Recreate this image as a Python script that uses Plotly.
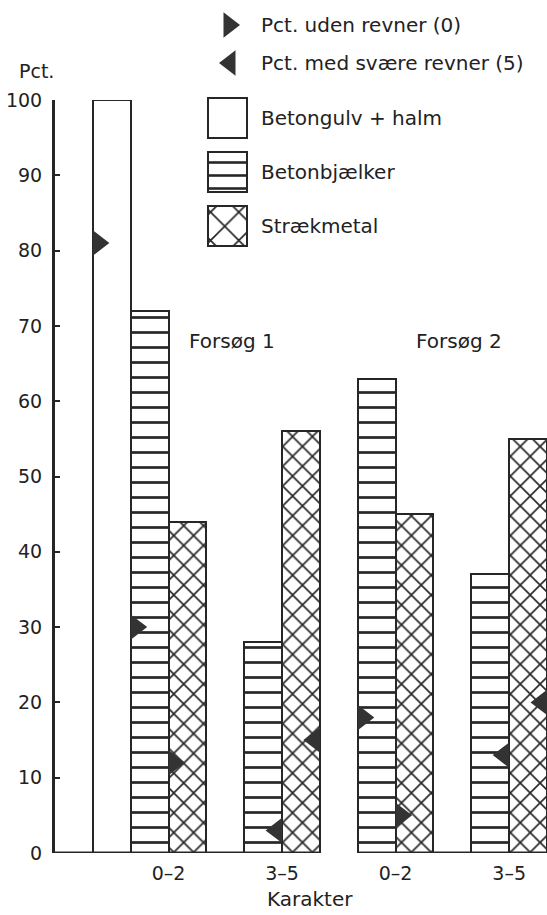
import plotly.graph_objects as go

# ---------------- data ----------------
groups = ["Forsøg 1", "Forsøg 2"]
karakter = ["0–2", "3–5"]
y_ticks = [0, 10, 20, 30, 40, 50, 60, 70, 80, 90, 100]

halm_pct = 100            # Betongulv + halm (Forsøg 1)
halm_uden_revner = 81     # Pct. uden revner on Betongulv + halm

# [Forsøg 1, Forsøg 2] for each karakter
bjaelker_0_2 = [72, 63]
bjaelker_3_5 = [28, 37]
straek_0_2 = [44, 45]
straek_3_5 = [56, 55]

# Pct. uden revner (0) – shown on the 0–2 bars
uden_revner_bjaelker = [30, 18]
uden_revner_straek = [12, 5]
# Pct. med svære revner (5) – shown on the 3–5 bars
svaere_revner_bjaelker = [3, 13]
svaere_revner_straek = [15, 20]

legend_markers = ["Pct. uden revner (0)", "Pct. med svære revner (5)"]
legend_bars = ["Betongulv + halm", "Betonbjælker", "Strækmetal"]

# ---------------- layout constants ----------------
W, H = 547, 915
ML, MR, MT, MB = 55, 0, 0, 62
PW, PH = W - ML - MR, H - MT - MB
X_MIN, X_MAX = -1.5, 11.5
UNIT_PX = PW / (X_MAX - X_MIN)
TOP_PX = 100
INK = "#262626"
FONT = "DejaVu Sans"
TRI = 22
off = (TRI / 4) / UNIT_PX   # shift so triangle base sits on bar edge


def px_to_paper(px, py):
    return (px - ML) / PW, (PH + MT - py) / PH


# slot positions: halm at 0, then pairs separated by one empty slot
halm_x = 0
pair_pos = {}
p = 1
for g in range(len(groups)):
    for k in range(len(karakter)):
        pair_pos[(g, k)] = p
        p += 3

bj_x, bj_y, st_x, st_y = [], [], [], []
for g in range(len(groups)):
    bj_x += [pair_pos[(g, 0)], pair_pos[(g, 1)]]
    bj_y += [bjaelker_0_2[g], bjaelker_3_5[g]]
    st_x += [pair_pos[(g, 0)] + 1, pair_pos[(g, 1)] + 1]
    st_y += [straek_0_2[g], straek_3_5[g]]

# markers
right_x = [halm_x - 0.5 + off]
right_y = [halm_uden_revner]
left_x, left_y = [], []
for g in range(len(groups)):
    b0 = pair_pos[(g, 0)]
    right_x += [b0 - 0.5 + off, b0 + 0.5 + off]
    right_y += [uden_revner_bjaelker[g], uden_revner_straek[g]]
    b1 = pair_pos[(g, 1)]
    left_x += [b1 + 0.5 - off, b1 + 1.5 - off]
    left_y += [svaere_revner_bjaelker[g], svaere_revner_straek[g]]

line = dict(color=INK, width=2)
hpat = dict(shape="-", size=15, solidity=0.18, fgcolor=INK, bgcolor="white", fillmode="replace")
xpat = dict(shape="x", size=14, solidity=0.22, fgcolor=INK, bgcolor="white", fillmode="replace")

fig = go.Figure()
fig.add_trace(go.Bar(x=[halm_x], y=[halm_pct], width=1, marker=dict(color="white", line=line),
                     cliponaxis=False, showlegend=False))
fig.add_trace(go.Bar(x=bj_x, y=bj_y, width=1, marker=dict(color="white", line=line, pattern=hpat),
                     cliponaxis=False, showlegend=False))
fig.add_trace(go.Bar(x=st_x, y=st_y, width=1, marker=dict(color="white", line=line, pattern=xpat),
                     cliponaxis=False, showlegend=False))
fig.add_trace(go.Scatter(x=right_x, y=right_y, mode="markers", cliponaxis=False, showlegend=False,
                         marker=dict(symbol="triangle-right", size=TRI, color="#333", line=dict(width=0))))
fig.add_trace(go.Scatter(x=left_x, y=left_y, mode="markers", cliponaxis=False, showlegend=False,
                         marker=dict(symbol="triangle-left", size=TRI, color="#333", line=dict(width=0))))

# ---------------- hand-drawn legend (pixel-like inset axes) ----------------
sw_x = 227
sw_w = 39
sw_tops = [98, 152, 206]
sw_h = 40
patterns = [None,
            dict(shape="-", size=13, solidity=0.2, fgcolor=INK, bgcolor="white", fillmode="replace"),
            dict(shape="x", size=20, solidity=0.16, fgcolor=INK, bgcolor="white", fillmode="replace")]
for top, pat in zip(sw_tops, patterns):
    mk = dict(color="white", line=line)
    if pat:
        mk["pattern"] = pat
    fig.add_trace(go.Bar(x=[sw_x], y=[sw_h], base=[top], width=[sw_w], marker=mk,
                         xaxis="x2", yaxis="y2", showlegend=False, cliponaxis=False))
mk_rows = [25, 63]
fig.add_trace(go.Scatter(x=[229], y=[mk_rows[0]], mode="markers", xaxis="x2", yaxis="y2", showlegend=False,
                         cliponaxis=False,
                         marker=dict(symbol="triangle-right", size=TRI, color="#333")))
fig.add_trace(go.Scatter(x=[230], y=[mk_rows[1]], mode="markers", xaxis="x2", yaxis="y2", showlegend=False,
                         cliponaxis=False,
                         marker=dict(symbol="triangle-left", size=TRI, color="#333")))

annotations = []
for txt, yy in zip(legend_markers + legend_bars, mk_rows + [t + sw_h / 2 for t in sw_tops]):
    annotations.append(dict(text=txt, x=259, y=yy, xref="x2", yref="y2", xanchor="left", yanchor="middle",
                            showarrow=False, font=dict(size=20, color="#222", family=FONT)))
px, py = px_to_paper(36, 71)
annotations.append(dict(text="Pct.", x=px, y=py, xref="paper", yref="paper", xanchor="center",
                        yanchor="middle", showarrow=False, font=dict(size=19, color="#222", family=FONT)))
px, py = px_to_paper(310, 899)
annotations.append(dict(text="Karakter", x=px, y=py, xref="paper", yref="paper", xanchor="center",
                        yanchor="middle", showarrow=False, font=dict(size=20, color="#222", family=FONT)))
for g, name in enumerate(groups):
    annotations.append(dict(text=name, x=pair_pos[(g, 0)] + 2, y=68, xref="x", yref="y", xshift=7,
                            xanchor="center", yanchor="middle", showarrow=False,
                            font=dict(size=20, color="#222", family=FONT)))

# baselines (one per trial)
shapes = []
for g in range(len(groups)):
    x0 = X_MIN if g == 0 else pair_pos[(g, 0)] - 0.5
    x1 = pair_pos[(g, 1)] + 1.5
    shapes.append(dict(type="line", xref="x", yref="y", x0=x0, x1=x1, y0=0, y1=0,
                       line=dict(color=INK, width=3), layer="above"))

tickvals = []
ticktext = []
for g in range(len(groups)):
    for k in range(len(karakter)):
        tickvals.append(pair_pos[(g, k)] + 0.5)
        ticktext.append(karakter[k])

fig.update_layout(
    width=W, height=H, margin=dict(l=ML, r=MR, t=MT, b=MB, pad=0, autoexpand=False),
    paper_bgcolor="white", plot_bgcolor="rgba(0,0,0,0)",
    barmode="overlay", bargap=0,
    font=dict(family=FONT, color="#222", size=19),
    xaxis=dict(range=[X_MIN, X_MAX], domain=[0, 1], showline=False, showgrid=False, zeroline=False,
               tickvals=tickvals, ticktext=ticktext, ticks="", ticklabelstandoff=7, automargin=False,
               tickfont=dict(size=19, family=FONT, color="#222")),
    yaxis=dict(range=[0, 100], domain=[0, (PH - TOP_PX) / PH], showline=True, linewidth=3, linecolor=INK,
               showgrid=False, zeroline=False, tickvals=y_ticks, ticks="inside", ticklen=5, tickwidth=2,
               tickcolor=INK, ticklabelstandoff=6, automargin=False,
               tickfont=dict(size=19, family=FONT, color="#222")),
    xaxis2=dict(range=[ML, W], domain=[0, 1], anchor="y2", visible=False, fixedrange=True, automargin=False),
    yaxis2=dict(range=[PH, 0], domain=[0, 1], anchor="x2", visible=False, fixedrange=True, automargin=False),
    annotations=annotations, shapes=shapes, showlegend=False,
)

fig.write_html("out.html", config={"displayModeBar": False},
               post_script="document.body.style.margin='0px';")
